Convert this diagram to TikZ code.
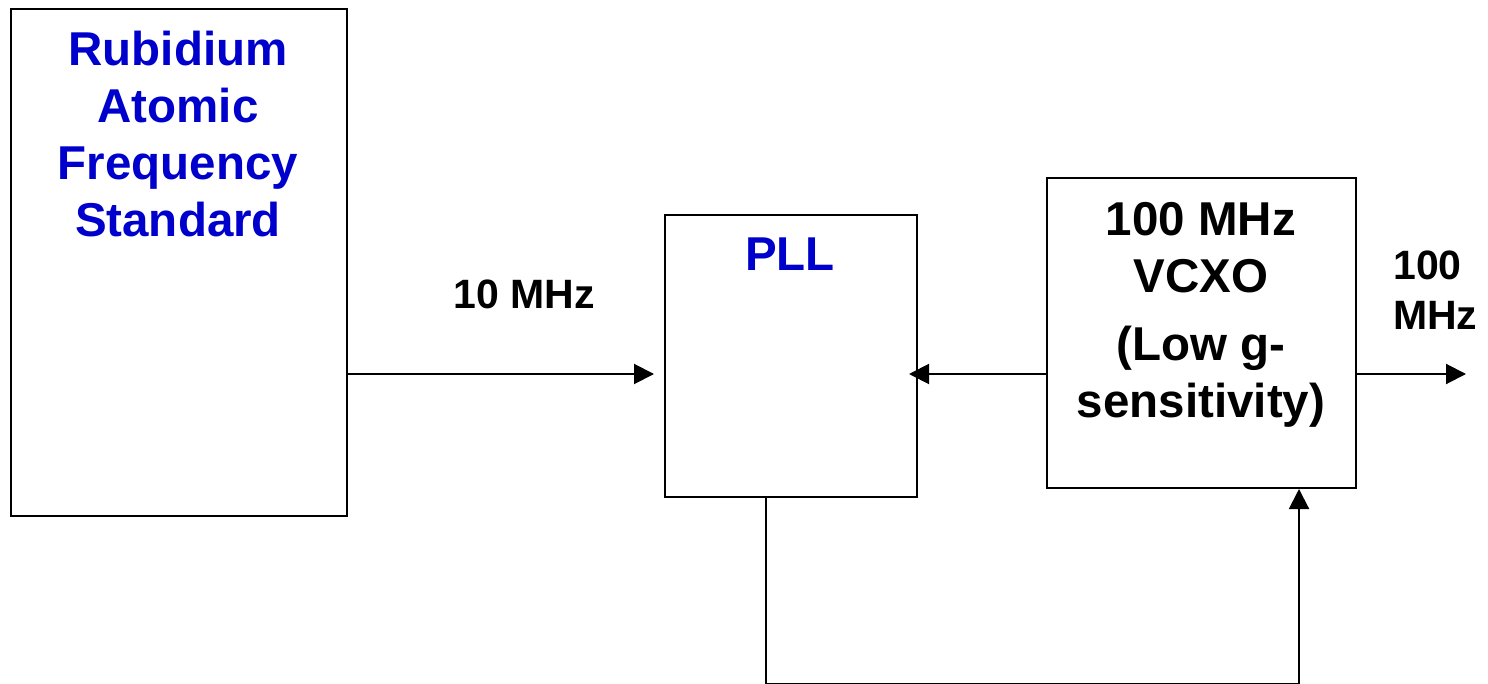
\documentclass[tikz,border=0pt]{standalone}
\usepackage{fontspec}
\setmainfont{Liberation Sans}
\usetikzlibrary{arrows.meta}
\definecolor{rbblue}{RGB}{0,0,204}
\begin{document}
\begin{tikzpicture}[x=1pt,y=1pt,
  box/.style={draw=black,line width=2pt,inner sep=0pt,anchor=north west},
  boxtext/.style={inner sep=0pt,align=center,font=\bfseries\fontsize{47.5}{57}\selectfont},
  lbl/.style={inner sep=0pt,font=\bfseries\fontsize{41}{50}\selectfont},
  arr/.style={line width=2pt,-{Triangle[length=20pt,width=20pt]}},
  wire/.style={line width=2pt}]
\useasboundingbox[fill=white] (0,0) rectangle (1488,-684);
% boxes
\node[box,minimum width=336pt,minimum height=507pt] (rb) at (10,-8) {};
\node[box,minimum width=252pt,minimum height=282pt] (pll) at (664,-214) {};
\node[box,minimum width=309pt,minimum height=310pt] (vcxo) at (1046,-177) {};
% texts
\node[boxtext,text=rbblue,anchor=north] (rbt) at (178,-31) {Rubidium\\Atomic\\Frequency\\Standard};
\node[boxtext,text=rbblue,anchor=north] (pllt) at (790,-238) {PLL};
\node[boxtext,anchor=north] (vcxot) at (1201,-202) {100 MHz\\VCXO\\[11pt](Low g-\\sensitivity)};
\node[lbl,anchor=base] (l10) at (524,-309) {10 MHz};
\node[lbl,anchor=north west,align=left] (l100) at (1393,-251) {100\\MHz};
% connectors
\coordinate (out) at (1466,-374);
\coordinate (b1) at (766,-683.5);
\coordinate (b2) at (1299,-683.5);
\draw[arr,shorten >=10pt] (rb.east |- 0,-374) -- (pll.west |- 0,-374);
\draw[arr,shorten >=-9pt] (vcxo.west |- 0,-374) -- (pll.east |- 0,-374);
\draw[arr] (vcxo.east |- out) -- (out);
\draw[wire] (pll.south -| b1) -- (b1) -- (b2);
\draw[arr] (b2) -- (vcxo.south -| b2);
\end{tikzpicture}
\end{document}
